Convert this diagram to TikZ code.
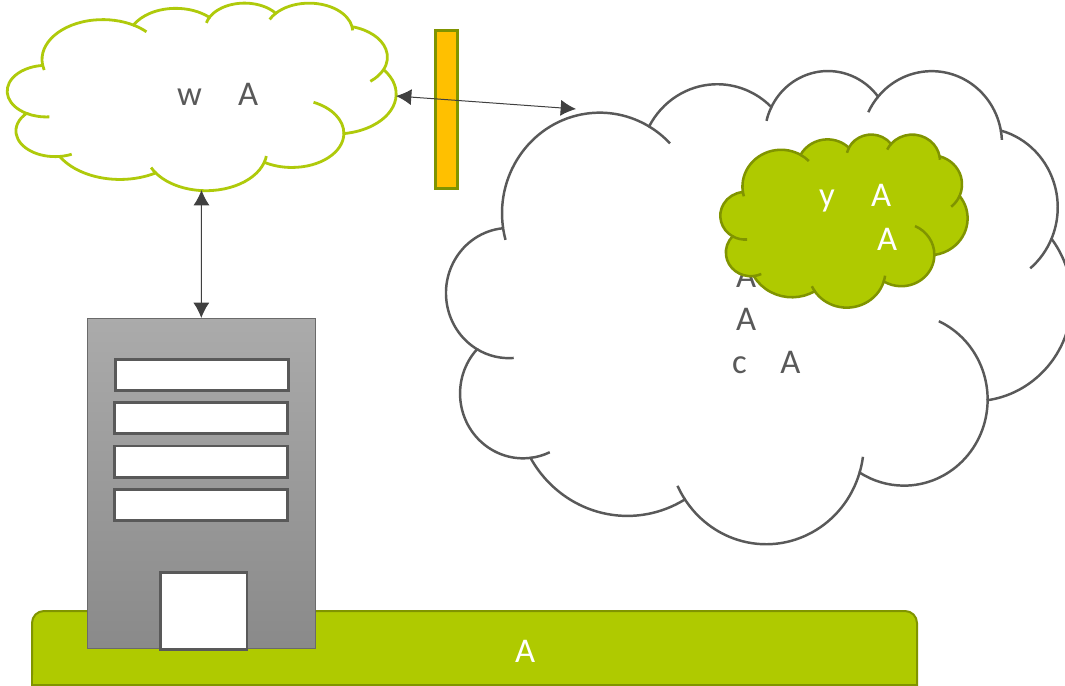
\documentclass[tikz,border=0pt]{standalone}
\usepackage{fontspec}
\setmainfont{Carlito}
\usetikzlibrary{arrows.meta}
\definecolor{lime}{HTML}{AFCA00}
\definecolor{limeline}{HTML}{AFCA0B}
\definecolor{olive}{HTML}{809400}
\definecolor{greyline}{HTML}{595959}
\definecolor{arrowgrey}{HTML}{404040}
\definecolor{amber}{HTML}{FFC000}
\tikzset{
  lbl/.style={anchor=base west,inner sep=0pt,outer sep=0pt,font=\fontsize{26}{30}\selectfont},
  darklbl/.style={lbl,text=greyline},
  lightlbl/.style={lbl,text=white},
  pane/.style={draw=greyline,fill=white,line width=2pt,inner sep=0pt,outer sep=0pt},
  tower/.style={draw=greyline!90,top color=black!33,bottom color=black!46,line width=.75pt,inner sep=0pt,outer sep=0pt},
  link/.style={draw=arrowgrey,line width=.75pt,{Latex[length=11.5pt,width=12pt]}-{Latex[length=11.5pt,width=12pt]}},
  anchorbox/.style={inner sep=0pt,outer sep=0pt},
}
\newcommand{\oofwd}[4]{arc[x radius=#1,y radius=#2,start angle={atan2(#1*sin(#3),#2*cos(#3))},delta angle={mod(atan2(#1*sin(#3+#4),#2*cos(#3+#4))-atan2(#1*sin(#3),#2*cos(#3))+720,360)}]}
\newcommand{\ooback}[4]{arc[x radius=#1,y radius=#2,start angle={atan2(#1*sin(#3),#2*cos(#3))},delta angle={-mod(atan2(#1*sin(#3),#2*cos(#3))-atan2(#1*sin(#3-#4),#2*cos(#3-#4))+720,360)}]}
% x0 y0 W H fill stroke width
\newcommand{\cloudshape}[7]{%
  \pgfmathsetmacro\cw{#3*0.75/43.2}\pgfmathsetmacro\ch{#4*0.75/43.2}%
  \begin{scope}[shift={(#1,#2)},x=\cw pt,y=-\ch pt]
    \path[fill=#5,draw=#6,line width=#7] (3.9,14.37) coordinate (J0)
      \oofwd{6.753}{9.19}{-190.4875}{123.7805} coordinate (J1)
      \oofwd{5.333}{7.267}{-144.1024}{89.9452} coordinate (J2)
      \oofwd{4.365}{5.945}{-145.8079}{99.7230} coordinate (J3)
      \oofwd{4.857}{6.595}{-130.9861}{117.2417} coordinate (J4)
      \oofwd{5.333}{7.273}{-78.7089}{109.0269} coordinate (J5)
      \oofwd{6.775}{9.22}{-46.2673}{130.2690} coordinate (J6)
      \oofwd{5.785}{7.867}{0.6250}{114.0333} coordinate (J7)
      \oofwd{6.752}{9.215}{22.4516}{115.1726} coordinate (J8)
      \oofwd{7.72}{10.543}{66.2426}{75.7110} coordinate (J9)
      \oofwd{4.36}{5.918}{-274.9421}{146.7356} coordinate (J10)
      \oofwd{4.345}{5.945}{-246.8285}{152.5189} coordinate (J11)
      -- cycle;
    \begin{scope}[draw=#6,line width=#7]
      \draw (J10) \ooback{4.345}{5.945}{113.17}{26.43};
      \draw (J9) \ooback{4.36}{5.918}{85.06}{14};
      \draw (J8) \oofwd{6.752}{9.215}{137.62}{10};
      \draw (J7) \ooback{6.752}{9.215}{22.45}{12};
      \draw (J6) \ooback{5.785}{7.867}{0.625}{72};
      \draw (J5) \oofwd{5.333}{7.273}{30.32}{28};
      \draw (J4) \oofwd{4.857}{6.595}{-13.74}{10};
      \draw (J3) \ooback{4.857}{6.595}{-130.99}{16};
      \draw (J2) \ooback{4.365}{5.945}{-145.81}{16};
      \draw (J1) \oofwd{6.753}{9.19}{-66.71}{14};
      \draw (J0) \ooback{6.753}{9.19}{-190.49}{10};
    \end{scope}
  \end{scope}}
\begin{document}
\begin{tikzpicture}[x=0.75pt,y=-0.75pt]
\useasboundingbox (0,0) rectangle (1065,686);
% bottom bar
\draw[fill=lime,draw=olive,line width=1.5pt,rounded corners=9pt] (32,720) -- (32,611) -- (917,611) -- (917,720);
\draw[fill=lime,draw=none] (33,675) rectangle (916,684.5);
\draw[draw=olive,line width=1.5pt] (32,685) -- (917,685);
\node[lightlbl] (barlabel) at (515,662.5) {A};
% top-left cloud
\cloudshape{7.5}{2.5}{388.5}{187.5}{white}{limeline}{2.1pt}
\node[anchorbox,minimum width=291.75pt,minimum height=141pt] (cloudA) at (201.5,96) {};
\node[darklbl] (cloudAlabel) at (177,105.5) {w\hspace{27.2pt}A};
% big cloud
\cloudshape{446.5}{69.5}{625}{473}{white}{greyline}{1.85pt}
\coordinate (bigEnd) at (576,109);
\node[darklbl] (bigA) at (736,287) {A};
\node[darklbl] (bigB) at (736,330) {A};
\node[darklbl] (bigC) at (732,373) {c\hspace{25.3pt}A};
% green cloud
\cloudshape{720.5}{134}{247}{173}{lime}{olive}{1.9pt}
\node[lightlbl] (greenA) at (819,206.5) {y\hspace{27.3pt}A};
\node[lightlbl] (greenB) at (877,250) {A};
% firewall bar
\node[draw=olive,fill=amber,line width=2.25pt,minimum width=16.5pt,minimum height=118.5pt,inner sep=0pt,outer sep=0pt] (wall) at (446.8,109.5) {};
% building
\node[tower,minimum width=171pt,minimum height=247.5pt] (bldg) at (201.3,483) {};
\node[pane,minimum width=129.75pt,minimum height=23.5pt] (win1) at (202.2,375) {};
\node[pane,minimum width=129.75pt,minimum height=23.5pt] (win2) at (201.3,418) {};
\node[pane,minimum width=129.75pt,minimum height=23.5pt] (win3) at (200.8,461.5) {};
\node[pane,minimum width=129.75pt,minimum height=23.5pt] (win4) at (201.3,505) {};
\node[pane,minimum width=65pt,minimum height=57.5pt] (door) at (203.5,611) {};
% connectors
\draw[link] (cloudA.east) -- (bigEnd);
\draw[link] (cloudA.south) -- (bldg.north);
\end{tikzpicture}
\end{document}
